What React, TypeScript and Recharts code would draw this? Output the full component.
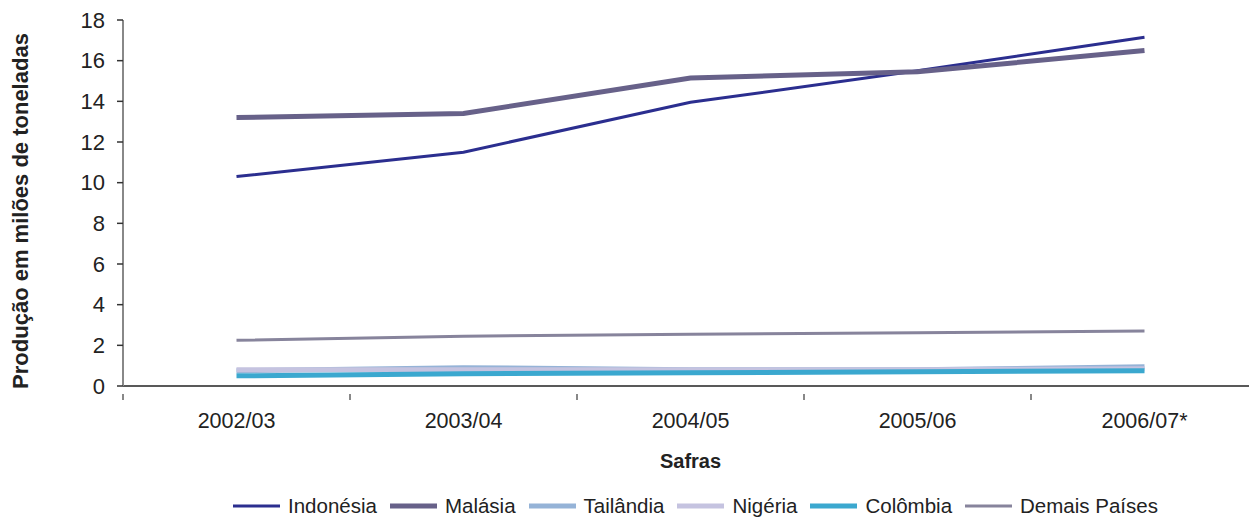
import React from 'react';
import {
    LineChart,
    Line,
    XAxis,
    YAxis,
    Legend,
    Label
} from 'recharts';

const safras = ['2002/03', '2003/04', '2004/05', '2005/06', '2006/07*'];
const indonesia = [10.3, 11.5, 13.95, 15.5, 17.15];
const malasia = [13.2, 13.4, 15.15, 15.45, 16.5];
const tailandia = [0.75, 0.9, 0.8, 0.8, 0.95];
const nigeria = [0.8, 0.8, 0.8, 0.8, 0.85];
const colombia = [0.5, 0.6, 0.65, 0.7, 0.75];
const demais = [2.25, 2.45, 2.55, 2.62, 2.7];
const yTicks = [0, 2, 4, 6, 8, 10, 12, 14, 16, 18];

const data = safras.map((safra, i) => ({
    safra,
    indonesia: indonesia[i],
    malasia: malasia[i],
    tailandia: tailandia[i],
    nigeria: nigeria[i],
    colombia: colombia[i],
    demais: demais[i],
}));

const series = [
    { key: 'indonesia', name: 'Indonésia', color: '#2b2e8f', width: 3 },
    { key: 'malasia', name: 'Malásia', color: '#676189', width: 5 },
    { key: 'tailandia', name: 'Tailândia', color: '#95b3d7', width: 5 },
    { key: 'nigeria', name: 'Nigéria', color: '#c5c3e0', width: 5 },
    { key: 'colombia', name: 'Colômbia', color: '#3ba8cf', width: 5 },
    { key: 'demais', name: 'Demais Países', color: '#87849c', width: 3 },
];

const FONT = '"Liberation Sans", Arial, sans-serif';

const CHART_W = 1270;
const MARGIN = { top: 20, right: 12, bottom: 0, left: 0 };
const Y_AXIS_W = 123;
// half of one category band, tick marks go between the categories
const HALF_BAND = (CHART_W - MARGIN.left - MARGIN.right - Y_AXIS_W) / safras.length / 2;

const SafraTick = (props: any) => {
    const { x, y, payload } = props;
    return (
        <g>
            <line x1={x - HALF_BAND} x2={x - HALF_BAND} y1={y} y2={y + 6} stroke="#888" strokeWidth={2} />
            <text
                x={x}
                y={y + 19}
                dy="0.71em"
                textAnchor="middle"
                fill="#222"
                fontSize={21.5}
                fontFamily={FONT}
            >
                {payload.value}
            </text>
        </g>
    );
};

// legend drawn by hand so the line thickness follows each series
const renderLegend = () => (
    <div style={{ display: 'flex', alignItems: 'center', height: 30, fontFamily: FONT, fontSize: 20.5, color: '#222' }}>
        {series.map((s) => (
            <div key={s.key} style={{ display: 'flex', alignItems: 'center', marginRight: 13 }}>
                <svg width={47} height={10} style={{ marginRight: 8 }}>
                    <line x1={0} x2={47} y1={5} y2={5} stroke={s.color} strokeWidth={s.width} />
                </svg>
                <span>{s.name}</span>
            </div>
        ))}
    </div>
);

const YLabel = (props: any) => {
    const { viewBox } = props;
    const cx = viewBox.x + 20;
    const cy = viewBox.y + viewBox.height / 2 + 8;
    return (
        <text
            x={cx}
            y={cy}
            transform={`rotate(-90, ${cx}, ${cy})`}
            textAnchor="middle"
            dominantBaseline="central"
            fontFamily={FONT}
            fontWeight="bold"
            fontSize={22}
            fill="#222"
        >
            Produção em milões de toneladas
        </text>
    );
};

export default function App() {
    return (
        <div style={{ position: 'absolute', left: 0, top: 0, width: 1249, height: 521, overflow: 'hidden', background: '#fff' }}>
            <LineChart
                width={CHART_W}
                height={521}
                data={data}
                margin={MARGIN}
            >
                <XAxis
                    dataKey="safra"
                    scale="band"
                    height={105}
                    tick={<SafraTick />}
                    axisLine={{ stroke: '#222', strokeWidth: 1.5 }}
                    tickLine={false}
                    interval={0}
                >
                    <Label
                        value="Safras"
                        position="insideBottom"
                        offset={23}
                        style={{ fontFamily: FONT, fontWeight: 'bold', fontSize: 20, fill: '#222' }}
                    />
                </XAxis>
                <YAxis
                    width={Y_AXIS_W}
                    domain={[0, 18]}
                    ticks={yTicks}
                    interval={0}
                    tick={{ fill: '#222', fontSize: 22, fontFamily: FONT }}
                    axisLine={{ stroke: '#888', strokeWidth: 2 }}
                    tickLine={{ stroke: '#333', strokeWidth: 1.5 }}
                    tickSize={6}
                    tickMargin={12}
                >
                    <Label content={<YLabel />} />
                </YAxis>
                <Legend
                    verticalAlign="bottom"
                    height={30}
                    content={renderLegend}
                    wrapperStyle={{ left: 233, width: 1000 }}
                />
                {series.map((s) => (
                    <Line
                        key={s.key}
                        type="linear"
                        dataKey={s.key}
                        name={s.name}
                        stroke={s.color}
                        strokeWidth={s.width}
                        dot={false}
                        activeDot={false}
                        isAnimationActive={false}
                    />
                ))}
            </LineChart>
        </div>
    );
}
